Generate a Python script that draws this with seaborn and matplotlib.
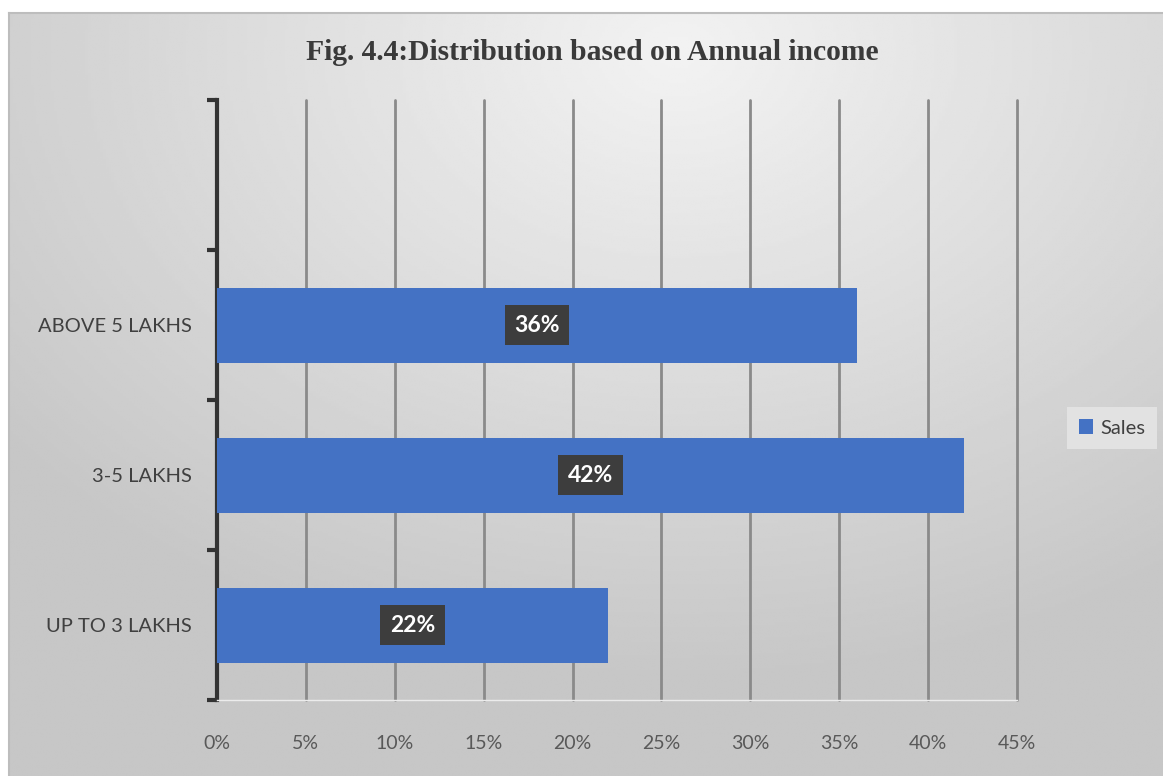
import numpy as np
import pandas as pd
import seaborn as sns
import matplotlib.pyplot as plt
from matplotlib.ticker import MultipleLocator, FixedLocator, PercentFormatter

# data
categories = ["ABOVE 5 LAKHS", "3-5 LAKHS", "UP TO 3 LAKHS"]
sales = [36, 42, 22]
x_ticks = [0, 5, 10, 15, 20, 25, 30, 35, 40, 45]

df = pd.DataFrame({"income": categories, "Sales": sales})

sns.set_theme(style="white")
plt.rcParams["font.family"] = ["Lato", "DejaVu Sans"]

fig = plt.figure(figsize=(11.63, 7.76), dpi=100)
fig.patch.set_facecolor("white")

# grey gradient panel behind the chart
bg = fig.add_axes([9 / 1163, 0, 1 - 9 / 1163, (776 - 13) / 776], zorder=0)
gx, gy = np.meshgrid(np.linspace(0, 1, 400), np.linspace(0, 1, 300))
dist = np.sqrt(((gx - 0.58) * 1.0) ** 2 + ((gy - 0.05) * 0.9) ** 2)
shade = np.clip(0.95 - 0.23 * dist, 0.78, 0.95)
bg.imshow(shade, cmap="gray", vmin=0, vmax=1, aspect="auto", extent=[0, 1, 1, 0])
bg.set_xticks([])
bg.set_yticks([])
for s in ["right", "bottom"]:
    bg.spines[s].set_visible(False)
for s in ["top", "left"]:
    bg.spines[s].set_color("#bdbdbd")
    bg.spines[s].set_linewidth(1.5)

ax = fig.add_axes([217 / 1163, 1 - 700 / 776, 800 / 1163, 600 / 776], zorder=1)
ax.set_facecolor("none")

sns.barplot(data=df, x="Sales", y="income", order=categories, color="#4472C4",
            width=0.5, saturation=1, ax=ax, label="Sales", zorder=3,
            edgecolor="none", linewidth=0)

ax.set_xlim(0, 45)
ax.set_ylim(2.5, -1.5)
ax.xaxis.set_major_locator(FixedLocator(x_ticks))
ax.xaxis.set_major_formatter(PercentFormatter(decimals=0))
ax.grid(axis="x", color="#8a8a8a", linewidth=2, zorder=0)
for gl in ax.get_xgridlines():
    gl.set_clip_on(False)
ax.set_axisbelow(True)
ax.set_xlabel("")
ax.set_ylabel("")

ax.tick_params(axis="x", length=0, pad=25, labelsize=14, labelcolor="#595959")
ax.tick_params(axis="y", which="major", left=True, length=0, pad=18, labelsize=14.5, labelcolor="#404040")
ax.yaxis.set_minor_locator(MultipleLocator(1, offset=0.5))
ax.tick_params(axis="y", which="minor", left=True, length=7, width=3, color="#333333", direction="out")

for s in ["top", "right"]:
    ax.spines[s].set_visible(False)
ax.spines["left"].set_color("#333333")
ax.spines["left"].set_linewidth(3)
ax.spines["bottom"].set_color("#ececec")
ax.spines["bottom"].set_linewidth(1)

for cont in ax.containers:
    ax.bar_label(cont, labels=[f"{v:.0f}%" for v in cont.datavalues], label_type="center",
                 color="white", fontsize=16.5, fontweight="bold",
                 bbox=dict(boxstyle="square,pad=0.42", fc="#3d3d3d", ec="none"))

fig.text(592 / 1163, 1 - 52 / 776, "Fig. 4.4:Distribution based on Annual income",
         ha="center", va="center", fontsize=21.3, fontweight="bold",
         family="Liberation Serif", color="#3a3a3a")

ax.legend(loc="center", bbox_to_anchor=(1112 / 1163, 1 - 428 / 776),
          bbox_transform=fig.transFigure, frameon=True, fancybox=False,
          facecolor="#e2e2e2", edgecolor="none", framealpha=1,
          fontsize=14.5, handlelength=0.7, handleheight=0.7, handletextpad=0.35,
          labelcolor="#404040", borderpad=0.6)

fig.savefig("out.png", dpi=100)
